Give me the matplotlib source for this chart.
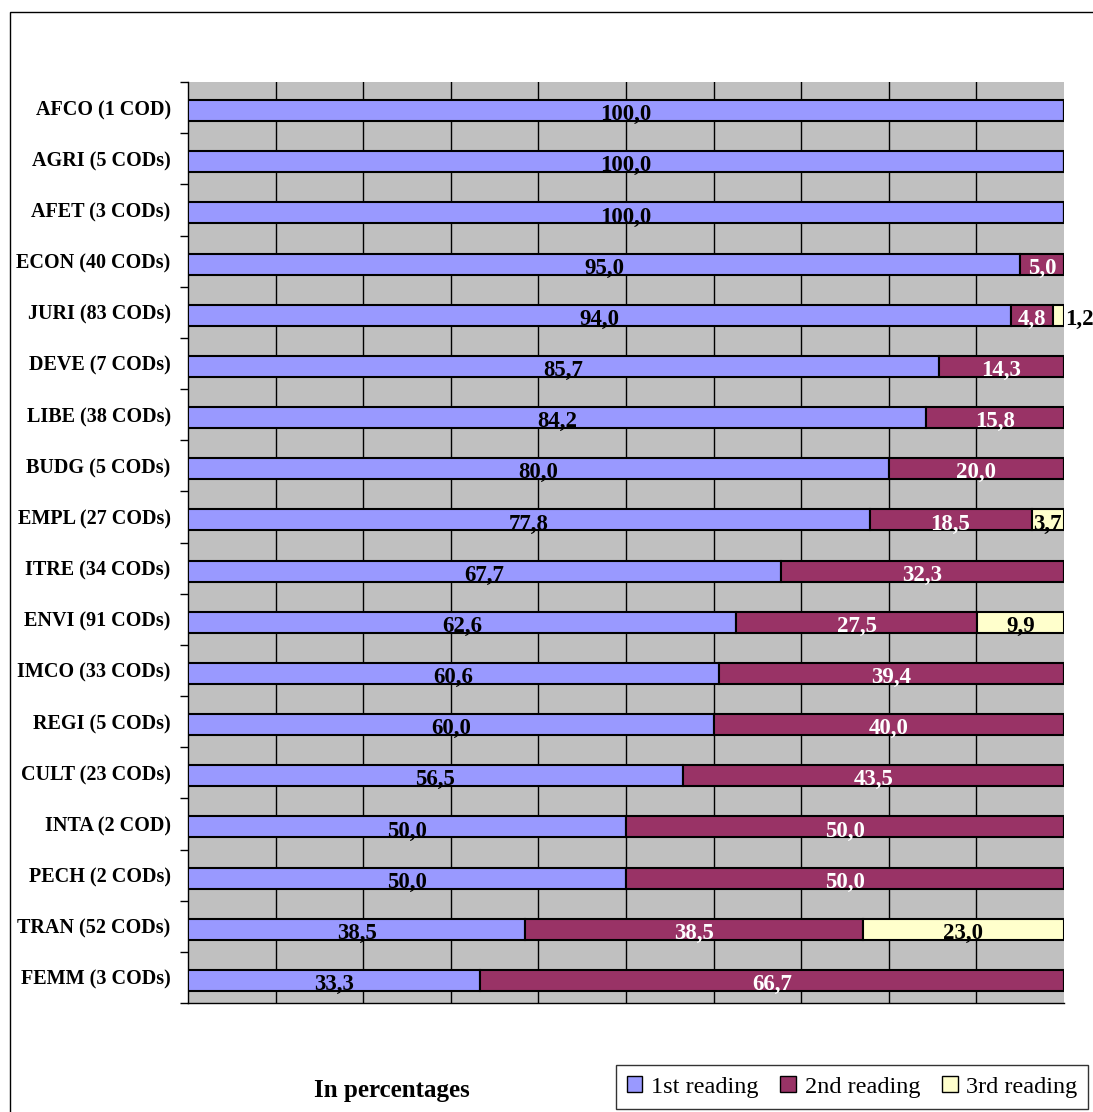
import matplotlib
matplotlib.use("Agg")
import matplotlib.pyplot as plt
from matplotlib.patches import Patch, Rectangle
import numpy as np

categories = ["AFCO (1 COD)", "AGRI (5 CODs)", "AFET (3 CODs)", "ECON (40 CODs)",
              "JURI (83 CODs)", "DEVE (7 CODs)", "LIBE (38 CODs)", "BUDG (5 CODs)",
              "EMPL (27 CODs)", "ITRE (34 CODs)", "ENVI (91 CODs)", "IMCO (33 CODs)",
              "REGI (5 CODs)", "CULT (23 CODs)", "INTA (2 COD)", "PECH (2 CODs)",
              "TRAN (52 CODs)", "FEMM (3 CODs)"]
first = [100.0, 100.0, 100.0, 95.0, 94.0, 85.7, 84.2, 80.0, 77.8, 67.7, 62.6, 60.6,
         60.0, 56.5, 50.0, 50.0, 38.5, 33.3]
second = [0, 0, 0, 5.0, 4.8, 14.3, 15.8, 20.0, 18.5, 32.3, 27.5, 39.4,
          40.0, 43.5, 50.0, 50.0, 38.5, 66.7]
third = [0, 0, 0, 0, 1.2, 0, 0, 0, 3.7, 0, 9.9, 0, 0, 0, 0, 0, 23.0, 0]
series_names = ["1st reading", "2nd reading", "3rd reading"]

colors = ["#9999FF", "#993366", "#FFFFCC"]
text_colors = ["black", "white", "black"]

plt.rcParams['font.family'] = ['Liberation Serif', 'DejaVu Serif']

fig = plt.figure(figsize=(10.93, 11.12), dpi=100)
ax = fig.add_axes([188/1093, 1-1003/1112, (1064-188)/1093, (1003-82)/1112])
ax.set_facecolor("#C0C0C0")

y = np.arange(len(categories))
bar_off = 0.06
bh = 0.41
left = np.zeros(len(categories))
for s, (vals, c, tc) in enumerate(zip([first, second, third], colors, text_colors)):
    vals = np.array(vals, dtype=float)
    ax.barh(y + bar_off, vals, left=left, height=bh, color=c, edgecolor="black",
            linewidth=1.5, zorder=3)
    for i, v in enumerate(vals):
        if v <= 0:
            continue
        lab = f"{v:.1f}".replace('.', ',')
        if v < 3:
            ax.text(left[i] + v + 0.1, y[i] + 0.14, lab, ha='left', va='center',
                    fontsize=16.5, fontweight='bold', color='black', zorder=4, clip_on=False)
        else:
            ax.text(left[i] + v/2, y[i] + 0.14, lab, ha='center', va='center',
                    fontsize=16.5, fontweight='bold', color=tc, zorder=4)
    left += vals

ax.set_xlim(0, 100)
ax.set_ylim(len(categories) - 0.5, -0.5)
ax.set_xticks(np.arange(10, 100, 10))
ax.xaxis.grid(True, color='black', linewidth=1, zorder=1)
ax.tick_params(axis='x', length=0, labelbottom=False)

ax.set_yticks(np.arange(-0.5, len(categories), 1))
ax.set_yticklabels([])
ax.tick_params(axis='y', which='major', length=6, width=1, direction='out')
ax.set_yticks(y, minor=True)
ax.set_yticklabels(categories, minor=True, fontsize=14.5, fontweight='bold')
ax.tick_params(axis='y', which='minor', length=0, pad=12.5)

for sp in ['top', 'right']:
    ax.spines[sp].set_visible(False)
ax.spines['left'].set_linewidth(1)
ax.spines['bottom'].set_linewidth(1)

fig.text(392/1093, 1-1090/1112, "In percentages", ha='center', va='center',
         fontsize=18, fontweight='bold')

handles = [Patch(facecolor=c, edgecolor='black', linewidth=1) for c in colors]
leg = fig.legend(handles, series_names, loc='center', bbox_to_anchor=(852/1093, 1-1087/1112),
                 ncol=3, fontsize=17.5, frameon=True, fancybox=False, edgecolor='black',
                 handlelength=0.65, handleheight=0.65, handletextpad=0.35, columnspacing=0.9,
                 borderpad=0.45, borderaxespad=0)
leg.get_frame().set_linewidth(1)

fig.patches.append(Rectangle((10/1093, -0.1), 1.2, 1-12/1112 + 0.1, transform=fig.transFigure,
                             fill=False, edgecolor='black', linewidth=1))

fig.savefig("out.png", dpi=100)
